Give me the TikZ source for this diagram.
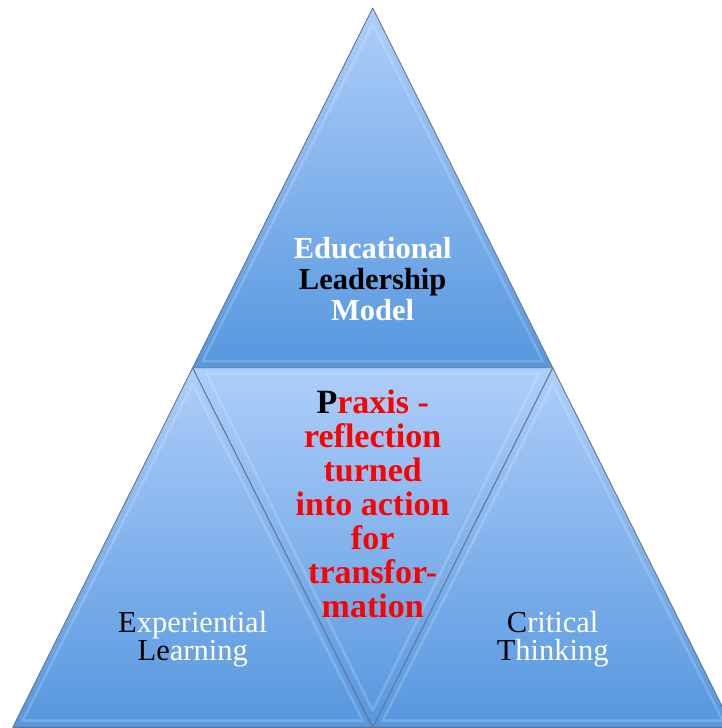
\documentclass[tikz,border=0pt]{standalone}
\usepackage{fontspec}
\setmainfont{Liberation Serif}
\definecolor{lightsky}{RGB}{174,206,250}
\definecolor{deepsky}{RGB}{86,151,222}
\definecolor{rimgray}{RGB}{100,118,146}

\tikzset{
  facet/.style={draw=rimgray,line width=0.9pt,line join=round,top color=lightsky,bottom color=deepsky},
  rim/.style={white,opacity=0.18,line width=2.5pt,line join=round},
  headtext/.style={align=center,font=\fontsize{30.5}{31}\selectfont\bfseries},
  redtext/.style={align=center,text=red,font=\fontsize{34}{34}\selectfont\bfseries},
  sidetext/.style={align=center,text=white,font=\fontsize{30.5}{28}\selectfont}
}

\def\uptri{%
    \path[facet] (0,0) -- (-180,359.7) -- (180,359.7) -- cycle;
    \draw[rim] (0,16) -- (-170,353) -- (170,353) -- cycle;
}
\def\downtri{%
    \path[facet] (-180,0) -- (180,0) -- (0,359.7) -- cycle;
    \draw[rim] (-166,6) -- (166,6) -- (0,343) -- cycle;
}

\begin{document}
\begin{tikzpicture}[x=1pt,y=-1pt]
\useasboundingbox (0,0) rectangle (722,728);
\clip (0,0) rectangle (722,728);
% top row
\begin{scope}[shift={(372.7,8)}]
\uptri
\end{scope}
% bottom row
\begin{scope}[shift={(192.7,367.7)}]
\uptri
\end{scope}
\begin{scope}[shift={(552.7,367.7)}]
\uptri
\end{scope}
\begin{scope}[shift={(372.7,367.7)}]
\downtri
\end{scope}

\node[headtext] (model) at (372.7,279) {\textcolor{white}{Educational}\\Leadership\\\textcolor{white}{Model}};
\node[redtext] (praxis) at (372.7,504) {\textcolor{black}{P}raxis -\\reflection\\turned\\into action\\for\\transfor-\\mation};
\node[sidetext] (learning) at (192.7,639) {\textcolor{black}{E}xperiential\\\textcolor{black}{Le}arning};
\node[sidetext] (thinking) at (552.7,639) {\textcolor{black}{C}ritical\\\textcolor{black}{T}hinking};
\end{tikzpicture}
\end{document}
